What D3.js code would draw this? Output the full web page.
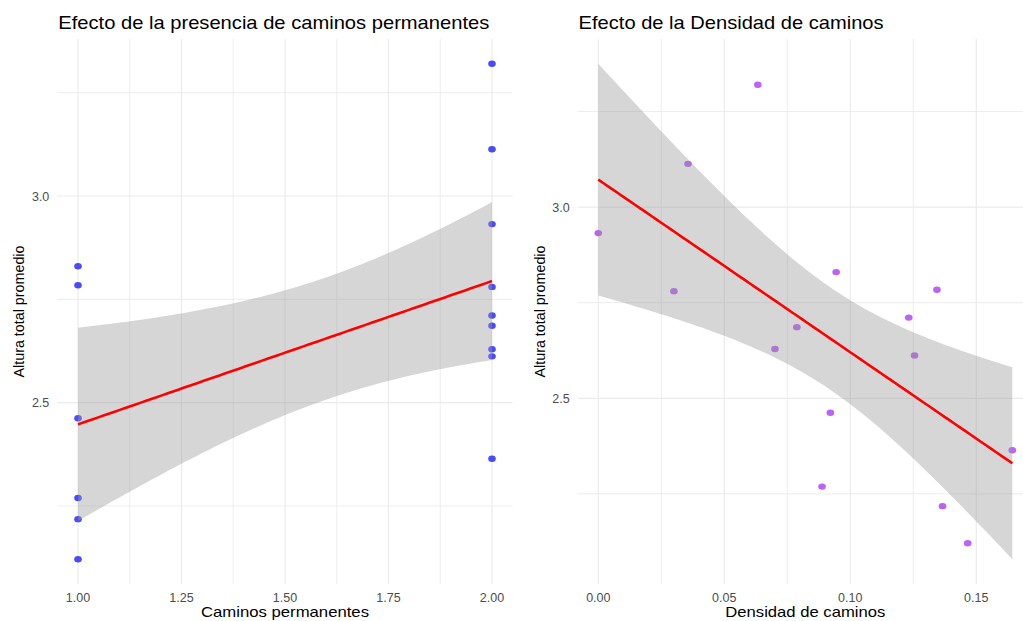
<!DOCTYPE html>
<html>
<head>
<meta charset="utf-8">
<script src="https://cdn.jsdelivr.net/npm/d3@7"></script>
<style>
  html, body { margin: 0; padding: 0; background: #ffffff; overflow: hidden; }
  svg { display: block; font-family: "Liberation Sans", Arial, Helvetica, sans-serif; }
</style>
</head>
<body>
<svg id="chart" width="1023" height="621"></svg>
<script>
// ---------------- data ----------------
const alturaPromedio = [2.932, 3.113, 3.320, 2.780, 2.830, 2.784, 2.711, 2.686, 2.629, 2.612, 2.462, 2.364, 2.269, 2.218, 2.121];
const caminosPermanentes = [2, 2, 2, 2, 1, 1, 2, 2, 2, 2, 1, 2, 1, 1, 1];
const densidadCaminos = [0.000, 0.0356, 0.0633, 0.0300, 0.0944, 0.1344, 0.1232, 0.0788, 0.0701, 0.1255, 0.0921, 0.1643, 0.0888, 0.1366, 0.1466];

const xTicksLeft = [1.00, 1.25, 1.50, 1.75, 2.00];
const xTickLabelsLeft = ["1.00", "1.25", "1.50", "1.75", "2.00"];
const xTicksRight = [0.00, 0.05, 0.10, 0.15];
const xTickLabelsRight = ["0.00", "0.05", "0.10", "0.15"];
const yTicks = [2.5, 3.0];
const yTickLabels = ["2.5", "3.0"];

const titles = ["Efecto de la presencia de caminos permanentes", "Efecto de la Densidad de caminos"];
const xTitles = ["Caminos permanentes", "Densidad de caminos"];
const yTitle = "Altura total promedio";
const pointColors = ["#0000ff", "#a020f0"];
const CRIT = 1.96;

// ---------------- helpers ----------------
function linearFit(xs, ys) {
  const n = xs.length;
  const mx = d3.mean(xs), my = d3.mean(ys);
  let sxx = 0, sxy = 0;
  for (let i = 0; i < n; i++) { sxx += (xs[i] - mx) ** 2; sxy += (xs[i] - mx) * (ys[i] - my); }
  const b = sxy / sxx, a = my - b * mx;
  let sse = 0;
  for (let i = 0; i < n; i++) sse += (ys[i] - (a + b * xs[i])) ** 2;
  const s = Math.sqrt(sse / (n - 2));
  const [lo, hi] = d3.extent(xs);
  const grid = d3.range(80).map(k => lo + (hi - lo) * k / 79);
  return grid.map(x => {
    const fit = a + b * x;
    const se = s * Math.sqrt(1 / n + (x - mx) ** 2 / sxx);
    return { x, fit, lo: fit - CRIT * se, hi: fit + CRIT * se };
  });
}
function expand(ext, f = 0.05) {
  const r = ext[1] - ext[0];
  return [ext[0] - r * f, ext[1] + r * f];
}

const svg = d3.select("#chart");
const panelTop = 39, panelBottom = 584, panelWidth = 455.4;
const panelLefts = [57.3, 577.6];

function drawPanel(idx, xs, xTicks, xTickLabels, xMinor) {
  const ys = alturaPromedio;
  const band = linearFit(xs, ys);
  const x0 = panelLefts[idx];
  const x = d3.scaleLinear().domain(expand(d3.extent(xs))).range([x0, x0 + panelWidth]);
  const yExt = d3.extent([...ys, ...band.map(d => d.lo), ...band.map(d => d.hi)]);
  const y = d3.scaleLinear().domain(expand(yExt)).range([panelBottom, panelTop]);

  const g = svg.append("g");
  const clipId = "clip" + idx;
  svg.append("clipPath").attr("id", clipId).append("rect")
    .attr("x", x0).attr("y", panelTop).attr("width", panelWidth).attr("height", panelBottom - panelTop);

  const grid = g.append("g").attr("clip-path", `url(#${clipId})`);
  const yMinor = [2.25, 2.75, 3.25];
  grid.selectAll("line.ymin").data(yMinor).join("line")
    .attr("x1", x0).attr("x2", x0 + panelWidth)
    .attr("y1", d => y(d)).attr("y2", d => y(d))
    .attr("stroke", "#ebebeb").attr("stroke-width", 0.9);
  grid.selectAll("line.xmin").data(xMinor).join("line")
    .attr("y1", panelTop).attr("y2", panelBottom)
    .attr("x1", d => x(d)).attr("x2", d => x(d))
    .attr("stroke", "#ebebeb").attr("stroke-width", 0.9);
  grid.selectAll("line.ymaj").data(yTicks).join("line")
    .attr("x1", x0).attr("x2", x0 + panelWidth)
    .attr("y1", d => y(d)).attr("y2", d => y(d))
    .attr("stroke", "#ebebeb").attr("stroke-width", 1.2);
  grid.selectAll("line.xmaj").data(xTicks).join("line")
    .attr("y1", panelTop).attr("y2", panelBottom)
    .attr("x1", d => x(d)).attr("x2", d => x(d))
    .attr("stroke", "#ebebeb").attr("stroke-width", 1.2);

  const marks = g.append("g").attr("clip-path", `url(#${clipId})`);
  // points
  marks.selectAll("ellipse").data(ys.map((v, i) => [xs[i], v])).join("ellipse")
    .attr("cx", d => x(d[0])).attr("cy", d => y(d[1])).attr("rx", 3.8).attr("ry", 3.2)
    .attr("fill", pointColors[idx]).attr("fill-opacity", 0.7);
  // ribbon
  marks.append("path").datum(band)
    .attr("d", d3.area().x(d => x(d.x)).y0(d => y(d.lo)).y1(d => y(d.hi)))
    .attr("fill", "#999999").attr("fill-opacity", 0.4);
  // fit line
  marks.append("path").datum(band)
    .attr("d", d3.line().x(d => x(d.x)).y(d => y(d.fit)))
    .attr("fill", "none").attr("stroke", "#ff0000").attr("stroke-width", 2.6);

  // axes text
  g.selectAll("text.xt").data(xTicks).join("text")
    .attr("x", d => x(d)).attr("y", 602)
    .attr("text-anchor", "middle").attr("font-size", 12.5).attr("fill", "#4d4d4d")
    .text((d, i) => xTickLabels[i]);
  g.selectAll("text.yt").data(yTicks).join("text")
    .attr("x", x0 - 8).attr("y", d => y(d) + 4.5)
    .attr("text-anchor", "end").attr("font-size", 12.5).attr("fill", "#4d4d4d")
    .text((d, i) => yTickLabels[i]);

  // titles
  const tw = [431, 305][idx];
  g.append("text").attr("x", x0 + 1).attr("y", 29)
    .attr("font-size", 18.5).attr("fill", "#000")
    .attr("textLength", tw).attr("lengthAdjust", "spacingAndGlyphs")
    .text(titles[idx]);
  const xtw = [168, 160][idx];
  g.append("text").attr("x", x0 + panelWidth / 2).attr("y", 617)
    .attr("text-anchor", "middle").attr("font-size", 15).attr("fill", "#000")
    .attr("textLength", xtw).attr("lengthAdjust", "spacingAndGlyphs")
    .text(xTitles[idx]);
  const yc = (panelTop + panelBottom) / 2;
  g.append("text")
    .attr("transform", `translate(${x0 - 33},${yc}) rotate(-90)`)
    .attr("text-anchor", "middle").attr("font-size", 15.5).attr("fill", "#000")
    .attr("textLength", 132).attr("lengthAdjust", "spacingAndGlyphs")
    .text(yTitle);
}

drawPanel(0, caminosPermanentes, xTicksLeft, xTickLabelsLeft, [1.125, 1.375, 1.625, 1.875]);
drawPanel(1, densidadCaminos, xTicksRight, xTickLabelsRight, [0.025, 0.075, 0.125, 0.175]);
</script>
</body>
</html>
